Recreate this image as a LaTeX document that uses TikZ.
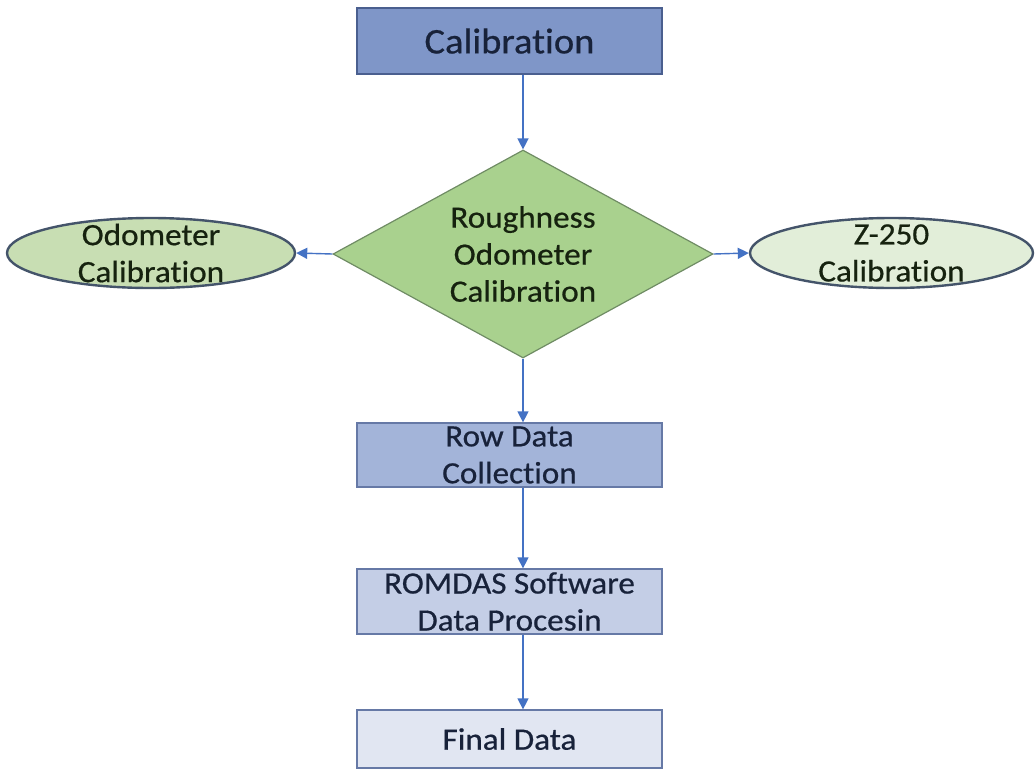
\documentclass[tikz,border=0pt]{standalone}
\usepackage{fontspec}
\setmainfont[FakeStretch=1.07, FakeBold=0.6, Ligatures=NoCommon, RawFeature=-liga]{Carlito}
\usetikzlibrary{shapes.geometric,arrows.meta}
\definecolor{arr}{HTML}{4472C4}
\definecolor{calfill}{HTML}{7F96C8}
\definecolor{calborder}{HTML}{4A5F8F}
\definecolor{rowfill}{HTML}{A3B4D9}
\definecolor{romfill}{HTML}{C4CEE6}
\definecolor{finfill}{HTML}{E1E6F2}
\definecolor{boxborder}{HTML}{6679A6}
\definecolor{diafill}{HTML}{A9D18E}
\definecolor{diaborder}{HTML}{6F8C64}
\definecolor{ellborder}{HTML}{44546A}
\definecolor{odofill}{HTML}{C8DEB3}
\definecolor{zfill}{HTML}{E2EED9}
\definecolor{bluetext}{HTML}{18223A}
\definecolor{greentext}{HTML}{16220F}
\tikzset{
  txt/.style={font=\fontsize{31}{37}\selectfont, align=center, inner sep=0pt},
  procbox/.style={rectangle, draw=boxborder, line width=1.3pt, minimum width=305, minimum height=64, inner sep=0pt, txt, text=bluetext},
  ellbox/.style={ellipse, draw=ellborder, line width=2.4pt, minimum height=70, inner sep=0pt},
  conn/.style={draw=arr, line width=1.4pt, -{Triangle[length=11pt,width=11pt]}}
}
\begin{document}
\begin{tikzpicture}[x=1pt,y=-1pt]
\useasboundingbox (0,0) rectangle (1035,774);
\node[procbox, fill=calfill, draw=calborder, minimum height=66, font=\fontsize{36}{42}\selectfont] (cal) at (509.5,41) {Calibration};
\node[diamond, fill=diafill, draw=diaborder, line width=1.2pt, aspect=1.83, minimum width=380, minimum height=208, inner sep=0pt, txt, text=greentext] (dia) at (523,254) {Roughness\\Odometer\\Calibration};
\node[ellbox, fill=odofill, minimum width=288] (odo) at (151,253) {};
\node[txt, text=greentext] (odot) at (odo.center) {Odometer\\Calibration};
\node[ellbox, fill=zfill, minimum width=283] (zc) at (891.5,253) {};
\node[txt, text=greentext] (zct) at (zc.center) {Z-250\\Calibration};
\node[procbox, fill=rowfill] (row) at (509.5,455) {Row Data\\Collection};
\node[procbox, fill=romfill, minimum height=65] (rom) at (509.5,601.5) {ROMDAS Software\\Data Procesin};
\node[procbox, fill=finfill, minimum height=58] (fin) at (509.5,739) {Final Data};
\draw[conn] (cal.south -| dia.north) -- (dia.north);
\draw[conn] (dia.west) -- (odo.east);
\draw[conn] (dia.east) -- (zc.west);
\draw[conn] (dia.south) -- (dia.south |- row.north);
\draw[conn] (row.south -| dia.south) -- (rom.north -| dia.south);
\draw[conn] (rom.south -| dia.south) -- (fin.north -| dia.south);
\end{tikzpicture}
\end{document}
